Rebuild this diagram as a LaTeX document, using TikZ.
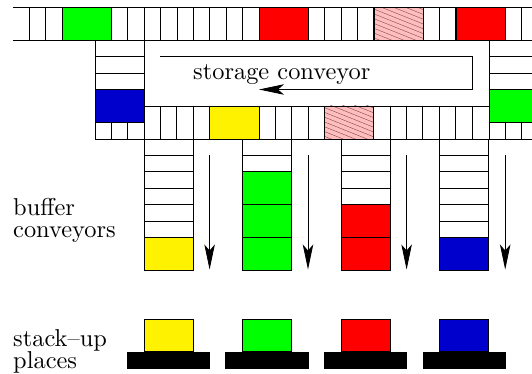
\documentclass[tikz,border=0pt]{standalone}
\usepackage{fontspec}
\setmainfont{lmroman10-regular}[Extension=.otf]
\usetikzlibrary{arrows.meta}
\definecolor{myblue}{RGB}{0,0,205}
\definecolor{hatchbg}{RGB}{255,190,190}
\definecolor{hatchln}{RGB}{130,75,85}
\tikzset{
  line/.style={draw=black,line width=0.8pt},
  blockbox/.style={line,fill=#1},
  base/.style={fill=black,draw=none},
  flow/.style={line,-{Stealth[length=25pt,width=10.5pt,inset=6pt]}},
  lbl/.style={inner sep=0pt,anchor=base west,font=\fontsize{24.4}{24.4}\selectfont}
}
\newcommand{\hatchfill}[4]{%
  \fill[hatchbg] (#1,#2) rectangle (#3,#4);
  \begin{scope}
    \clip (#1,#2) rectangle (#3,#4);
    \foreach \k in {-6,...,14}{
      \draw[hatchln,line width=0.45pt] (#1-10,#2+\k*4.8-12) -- ++(70,28);
    }
  \end{scope}
  \draw[line] (#1,#2) rectangle (#3,#4);
}
\begin{document}
\begin{tikzpicture}[x=1pt,y=-1pt]
\useasboundingbox (0,0) rectangle (532,374);
\def\u{16.4}
% top conveyor
\draw[line] (13,7.5) -- (532,7.5);
\draw[line] (13,40.3) -- (532,40.3);
\foreach \i in {1,...,31}{
  \draw[line] ({13+\i*\u},7.5) -- ({13+\i*\u},40.3);
}
\draw[blockbox=green] (62.2,7.5) rectangle (111.4,40.3);
\draw[blockbox=red] (259.2,7.5) rectangle (308.4,40.3);
\hatchfill{374}{7.5}{423.2}{40.3}
\draw[blockbox=red] (456,7.5) rectangle (505.2,40.3);
% left branch
\draw[line] (95,40.3) -- (95,139) -- (144,139);
\draw[line] (144,40.3) -- (144,139);
\foreach \y in {56.7,73.1}{ \draw[line] (95,\y) -- (144,\y); }
\draw[blockbox=myblue] (95,89.5) rectangle (144,122.5);
\foreach \x in {111.4,127.8}{ \draw[line] (\x,122.5) -- (\x,139); }
% right branch
\draw[line] (489,40.3) -- (489,139);
\foreach \y in {56.7,73.1,122.5,139}{ \draw[line] (489,\y) -- (532,\y); }
\draw[blockbox=green] (489,89.5) rectangle (533,122.5);
\foreach \x in {505.2,521.6}{ \draw[line] (\x,122.5) -- (\x,139); }
% bottom conveyor
\draw[line] (144,106) -- (489,106);
\draw[line] (144,139) -- (489,139);
\foreach \i in {1,...,20}{
  \draw[line] ({144+\i*\u},106) -- ({144+\i*\u},139);
}
\draw[blockbox=yellow] (209.7,106) rectangle (259,139);
\hatchfill{324.6}{106}{373.8}{139}
% storage conveyor
\coordinate (sa) at (160.4,56.7);
\coordinate (sb) at (472.5,56.7);
\coordinate (sc) at (472.5,89.5);
\coordinate (sd) at (259,89.5);
\draw[flow] (sa) -- (sb) -- (sc) -- (sd);
\node[lbl] (title) at (193,80) {storage conveyor};
% buffers
\foreach \x/\c/\t/\n in {144/yellow/237.4/a,242.4/green/171.8/b,341/red/204.6/c,439.6/myblue/237.4/d}{
  \draw[line] (\x,139) rectangle (\x+49.2,270.3);
  \foreach \y in {155.4,171.8,188.2,204.6,221,237.4}{
    \draw[line] (\x,\y) -- (\x+49.2,\y);
  }
  \draw[blockbox=\c] (\x,\t) rectangle (\x+49.2,270.3);
  \foreach \y in {204.6,237.4}{
    \ifdim \y pt>\t pt \draw[line] (\x,\y) -- (\x+49.2,\y); \fi
  }
  \coordinate (from\n) at (\x+65.6,155.4);
  \coordinate (to\n) at (\x+65.6,269.5);
  \draw[flow] (from\n) -- (to\n);
  % stack-up place
  \node[base,minimum width=83.3pt,minimum height=17.3pt,inner sep=0pt,anchor=north] (base\n) at (\x+24.6,351.7) {};
  \draw[blockbox=\c] (\x,319.4) rectangle (\x+49.2,351.7);
}
\node[lbl] (b1) at (13,215) {buffer};
\node[lbl] (b2) at (13,237) {conveyors};
\node[lbl] (s1) at (13,346.5) {stack--up};
\node[lbl] (s2) at (13,368) {places};
\end{tikzpicture}
\end{document}
